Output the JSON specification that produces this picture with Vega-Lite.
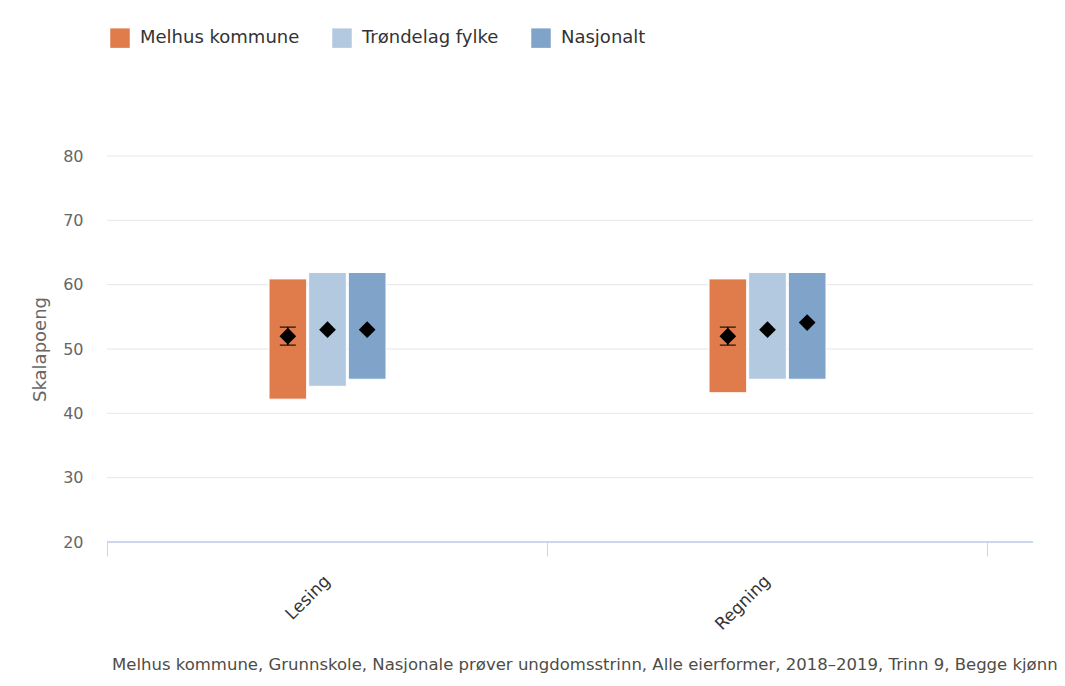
{
  "$schema": "https://vega.github.io/schema/vega-lite/v6.json",
  "width": 926,
  "height": 386,
  "autosize": {"type": "none"},
  "padding": {"left": 107, "top": 156, "right": 32, "bottom": 144},
  "background": "white",
  "config": {"view": {"stroke": null}, "font": "DejaVu Sans"},
  "data": {
    "values": [
      {"subject": "Lesing", "series": "Melhus kommune", "low": 42.2, "high": 60.9, "mean": 52.0, "errLow": 50.6, "errHigh": 53.4},
      {"subject": "Lesing", "series": "Trøndelag fylke", "low": 44.2, "high": 61.9, "mean": 53.0, "errLow": null, "errHigh": null},
      {"subject": "Lesing", "series": "Nasjonalt", "low": 45.3, "high": 61.9, "mean": 53.0, "errLow": null, "errHigh": null},
      {"subject": "Regning", "series": "Melhus kommune", "low": 43.2, "high": 60.9, "mean": 52.0, "errLow": 50.6, "errHigh": 53.4},
      {"subject": "Regning", "series": "Trøndelag fylke", "low": 45.3, "high": 61.9, "mean": 53.0, "errLow": null, "errHigh": null},
      {"subject": "Regning", "series": "Nasjonalt", "low": 45.3, "high": 61.9, "mean": 54.1, "errLow": null, "errHigh": null}
    ]
  },
  "title": {
    "text": "Melhus kommune, Grunnskole, Nasjonale prøver ungdomsstrinn, Alle eierformer, 2018–2019, Trinn 9, Begge kjønn",
    "orient": "bottom",
    "anchor": "start",
    "frame": "group",
    "dx": 5,
    "offset": 24,
    "fontSize": 16.5,
    "fontWeight": "normal",
    "color": "#4d4d45",
    "font": "DejaVu Sans"
  },
  "layer": [
    {
      "data": {"values": [{"g": 30}, {"g": 40}, {"g": 50}, {"g": 60}, {"g": 70}, {"g": 80}]},
      "mark": {"type": "rule", "color": "#e6e6e6", "strokeWidth": 1},
      "encoding": {"y": {"field": "g", "type": "quantitative"}}
    },
    {
      "mark": {"type": "rule", "color": "#ccd6eb", "strokeWidth": 1},
      "encoding": {"y": {"datum": 20, "type": "quantitative"}}
    },
    {
      "mark": {"type": "bar", "stroke": "white", "strokeWidth": 1},
      "encoding": {
        "x": {
          "field": "subject",
          "type": "nominal",
          "sort": ["Lesing", "Regning"],
          "scale": {"range": [0, 880], "paddingInner": 0, "paddingOuter": 0},
          "axis": {
            "title": null,
            "labelAngle": -45,
            "labelAlign": "right",
            "labelBaseline": "middle",
            "labelFontSize": 17,
            "labelColor": "#333333",
            "labelFont": "DejaVu Sans",
            "labelPadding": 22,
            "tickBand": "extent",
            "tickColor": "#ccd6eb",
            "tickSize": 14,
            "domain": false,
            "grid": false
          }
        },
        "xOffset": {
          "field": "series",
          "type": "nominal",
          "sort": ["Melhus kommune", "Trøndelag fylke", "Nasjonalt"],
          "scale": {
            "domain": ["Melhus kommune", "Trøndelag fylke", "Nasjonalt"],
            "range": [162, 279],
            "paddingInner": 0.05,
            "paddingOuter": 0
          }
        },
        "y": {
          "field": "low",
          "type": "quantitative",
          "scale": {"domain": [20, 80], "nice": false, "zero": false},
          "axis": {
            "title": "Skalapoeng",
            "values": [20, 30, 40, 50, 60, 70, 80],
            "grid": false,
            "domain": false,
            "ticks": false,
            "labelFontSize": 16,
            "labelColor": "#666666",
            "labelFont": "DejaVu Sans",
            "labelPadding": 24,
            "titleFontSize": 18,
            "titleFont": "DejaVu Sans",
            "titleColor": "#666666",
            "titleFontWeight": "normal",
            "titleBaseline": "middle",
            "titleX": -67,
            "titleY": 193
          }
        },
        "y2": {"field": "high"},
        "color": {
          "field": "series",
          "type": "nominal",
          "sort": ["Melhus kommune", "Trøndelag fylke", "Nasjonalt"],
          "scale": {
            "domain": ["Melhus kommune", "Trøndelag fylke", "Nasjonalt"],
            "range": ["#e07c4b", "#b3c9df", "#7fa3c9"]
          },
          "legend": {
            "orient": "none",
            "legendX": 3,
            "legendY": -128,
            "direction": "horizontal",
            "title": null,
            "symbolType": "square",
            "symbolSize": 380,
            "symbolStrokeWidth": 0,
            "labelFontSize": 18,
            "labelColor": "#333333",
            "labelFont": "DejaVu Sans",
            "labelOffset": 10,
            "columnPadding": 32
          }
        }
      }
    },
    {
      "transform": [{"filter": "datum.errLow != null"}],
      "mark": {"type": "rule", "color": "black", "strokeWidth": 1.5},
      "encoding": {
        "x": {"field": "subject", "type": "nominal", "sort": ["Lesing", "Regning"]},
        "xOffset": {"field": "series", "type": "nominal", "sort": ["Melhus kommune", "Trøndelag fylke", "Nasjonalt"]},
        "y": {"field": "errLow", "type": "quantitative"},
        "y2": {"field": "errHigh"}
      }
    },
    {
      "transform": [{"filter": "datum.errLow != null"}],
      "mark": {"type": "tick", "color": "black", "size": 16, "thickness": 1.5},
      "encoding": {
        "x": {"field": "subject", "type": "nominal", "sort": ["Lesing", "Regning"]},
        "xOffset": {"field": "series", "type": "nominal", "sort": ["Melhus kommune", "Trøndelag fylke", "Nasjonalt"]},
        "y": {"field": "errLow", "type": "quantitative"}
      }
    },
    {
      "transform": [{"filter": "datum.errLow != null"}],
      "mark": {"type": "tick", "color": "black", "size": 16, "thickness": 1.5},
      "encoding": {
        "x": {"field": "subject", "type": "nominal", "sort": ["Lesing", "Regning"]},
        "xOffset": {"field": "series", "type": "nominal", "sort": ["Melhus kommune", "Trøndelag fylke", "Nasjonalt"]},
        "y": {"field": "errHigh", "type": "quantitative"}
      }
    },
    {
      "mark": {"type": "point", "shape": "diamond", "filled": true, "color": "black", "size": 280, "opacity": 1},
      "encoding": {
        "x": {"field": "subject", "type": "nominal", "sort": ["Lesing", "Regning"]},
        "xOffset": {"field": "series", "type": "nominal", "sort": ["Melhus kommune", "Trøndelag fylke", "Nasjonalt"]},
        "y": {"field": "mean", "type": "quantitative"}
      }
    }
  ]
}
